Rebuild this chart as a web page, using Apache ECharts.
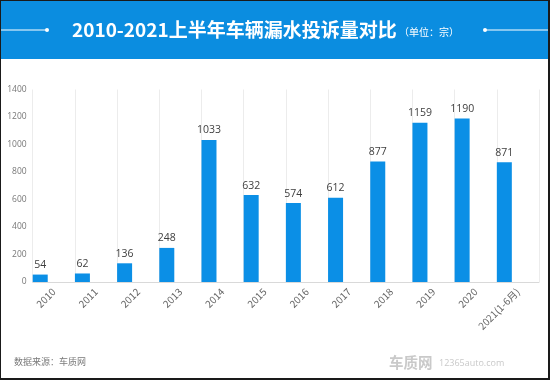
<!DOCTYPE html>
<html>
<head>
<meta charset="utf-8">
<script src="https://cdn.jsdelivr.net/npm/echarts@6/dist/echarts.min.js"></script>
<style>html,body{margin:0;padding:0;background:#fff}#c{width:550px;height:380px}</style>
</head>
<body>
<div id="c"></div>
<script>
const categories = ['2010','2011','2012','2013','2014','2015','2016','2017','2018','2019','2020','2021(1-6月)'];
const complaints = [54, 62, 136, 248, 1033, 632, 574, 612, 877, 1159, 1190, 871];
const yTicks = { min: 0, max: 1400, interval: 200 };
const titleText = '2010-2021上半年车辆漏水投诉量对比';
const unitText = '（单位：宗）';
const sourceText = '数据来源：车质网';

const chart = echarts.init(document.getElementById('c'), null, {renderer: 'canvas'});
const cjk = '"Noto Sans CJK SC", "Open Sans", sans-serif';
const num = '"Open Sans", "Noto Sans", sans-serif';

chart.setOption({
  backgroundColor: '#fff',
  animation: false,
  grid: { left: 32.7, right: 11, top: 89.5, bottom: 98, containLabel: false },
  xAxis: {
    type: 'category',
    data: categories,
    boundaryGap: true,
    axisLine: { show: true, lineStyle: { color: '#d9d9d9', width: 1 } },
    axisTick: { show: false },
    splitLine: { show: true, interval: 0, lineStyle: { color: '#ececec', width: 1 } },
    axisLabel: { interval: 0, rotate: 45, margin: 8, fontSize: 10, color: '#666', fontFamily: cjk }
  },
  yAxis: {
    type: 'value',
    min: yTicks.min, max: yTicks.max, interval: yTicks.interval,
    axisLine: { show: false },
    axisTick: { show: false },
    splitLine: { show: false },
    axisLabel: { margin: 6, fontSize: 8.5, color: '#777', fontFamily: num, formatter: (v) => String(v) }
  },
  series: [
    {
      type: 'bar',
      data: complaints,
      barWidth: 15,
      barGap: '81%',
      itemStyle: { color: '#0b8fe6' },
      label: { show: true, position: 'top', distance: 4, fontSize: 10.5, color: '#404040', fontFamily: num }
    },
    {
      type: 'bar',
      data: complaints.map(() => null),
      barWidth: 15,
      barGap: '81%',
      silent: true
    }
  ],
  graphic: [
    { type: 'rect', shape: { x: 0, y: 0, width: 550, height: 59 }, style: { fill: '#0b8de0' }, z: 0 },
    { type: 'line', shape: { x1: 0, y1: 30, x2: 46, y2: 30 }, style: { stroke: '#fff', lineWidth: 1 } },
    { type: 'circle', shape: { cx: 47, cy: 30, r: 2 }, style: { fill: '#fff' } },
    { type: 'line', shape: { x1: 486, y1: 30, x2: 550, y2: 30 }, style: { stroke: '#fff', lineWidth: 1 } },
    { type: 'circle', shape: { cx: 485, cy: 30, r: 2 }, style: { fill: '#fff' } },
    { type: 'text', x: 72, y: 30, style: { text: titleText, fill: '#fff', font: 'bold 19px "Noto Sans CJK SC", sans-serif', textVerticalAlign: 'middle' } },
    { type: 'text', x: 399, y: 32, style: { text: unitText, fill: '#fff', font: '10px "Noto Sans CJK SC", sans-serif', textVerticalAlign: 'middle' } },
    { type: 'text', x: 14, y: 362, style: { text: sourceText, fill: '#7a7a7a', font: '9px "Noto Sans CJK SC", sans-serif', textVerticalAlign: 'middle' } },
    { type: 'text', x: 389, y: 362, style: { text: '车质网', fill: '#c9c9c9', font: 'bold 14.5px "Noto Sans CJK SC", sans-serif', textVerticalAlign: 'middle' } },
    { type: 'text', x: 439, y: 363, style: { text: '12365auto.com', fill: '#c9c9c9', font: '9px "Open Sans", sans-serif', textVerticalAlign: 'middle' } },
    { type: 'rect', shape: { x: 0, y: 0, width: 1, height: 380 }, style: { fill: '#1a1a1a' } },
    { type: 'rect', shape: { x: 0, y: 0, width: 550, height: 1 }, style: { fill: '#1a1a1a' } },
    { type: 'rect', shape: { x: 548, y: 0, width: 2, height: 380 }, style: { fill: '#1a1a1a' } },
    { type: 'rect', shape: { x: 0, y: 378, width: 550, height: 2 }, style: { fill: '#1a1a1a' } }
  ]
});
</script>
</body>
</html>
